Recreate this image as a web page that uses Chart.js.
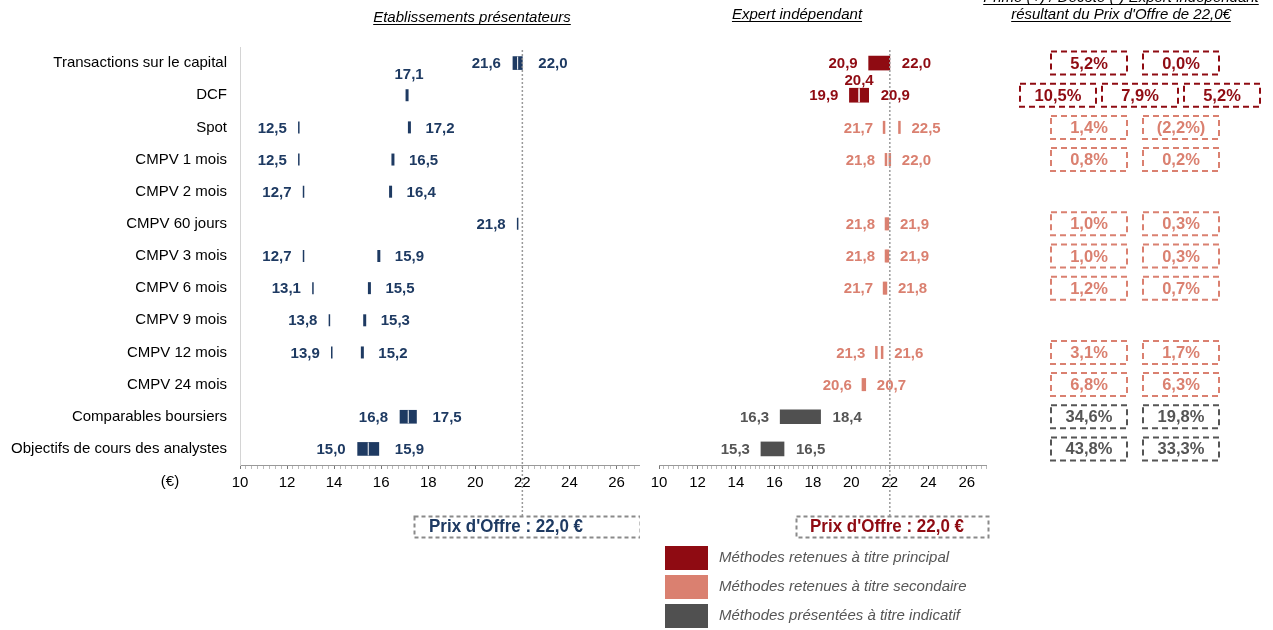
<!DOCTYPE html>
<html>
<head>
<meta charset="utf-8">
<script src="https://cdn.jsdelivr.net/npm/chart.js@4"></script>
<style>
  body { margin: 0; background: #fff; width: 1273px; height: 630px; overflow: hidden; position: relative; }
  canvas { position: absolute; top: 0; }
  #bank { left: 0; }
  #expert { left: 640px; }
</style>
</head>
<body>
<canvas id="bank" width="640" height="630"></canvas>
<canvas id="expert" width="633" height="630"></canvas>
<script>
const FONT = "'Liberation Sans', Arial, Helvetica, sans-serif";

const categories = [
  "Transactions sur le capital", "DCF", "Spot", "CMPV 1 mois", "CMPV 2 mois",
  "CMPV 60 jours", "CMPV 3 mois", "CMPV 6 mois", "CMPV 9 mois", "CMPV 12 mois",
  "CMPV 24 mois", "Comparables boursiers", "Objectifs de cours des analystes"
];
const methodGroup = [
  "principal", "principal", "secondaire", "secondaire", "secondaire",
  "secondaire", "secondaire", "secondaire", "secondaire", "secondaire",
  "secondaire", "indicatif", "indicatif"
];
const offerPrice = 22.0;
const xTickLabels = [10, 12, 14, 16, 18, 20, 22, 24, 26];
const xMax = 27;

// Etablissements présentateurs
const bankLow  = [21.6, null, 12.5, 12.5, 12.7, 21.8, 12.7, 13.1, 13.8, 13.9, null, 16.8, 15.0];
const bankHigh = [22.0, 17.1, 17.2, 16.5, 16.4, null, 15.9, 15.5, 15.3, 15.2, null, 17.5, 15.9];

// Expert indépendant
const expertLow  = [20.9, 19.9, 21.7, 21.8, null, 21.8, 21.8, 21.7, null, 21.3, 20.6, 16.3, 15.3];
const expertMid  = [null, 20.4, null, null, null, null, null, null, null, null, null, null, null];
const expertHigh = [22.0, 20.9, 22.5, 22.0, null, 21.9, 21.9, 21.8, null, 21.6, 20.7, 18.4, 16.5];

// Prime / décote (%)
const premiumLow  = [5.2, 10.5, 1.4, 0.8, null, 1.0, 1.0, 1.2, null, 3.1, 6.8, 34.6, 43.8];
const premiumMid  = [null, 7.9, null, null, null, null, null, null, null, null, null, null, null];
const premiumHigh = [0.0, 5.2, -2.2, 0.2, null, 0.3, 0.3, 0.7, null, 1.7, 6.3, 19.8, 33.3];

const legendLabels = [
  "Méthodes retenues à titre principal",
  "Méthodes retenues à titre secondaire",
  "Méthodes présentées à titre indicatif"
];

const NAVY = "#1E3A62";
const groupColor = { principal: "#8F0B12", secondaire: "#DA8070", indicatif: "#505050" };
const groupText = { principal: "#8F0B12", secondaire: "#DA8070", indicatif: "#555555" };

const fmt = (v) => v.toFixed(1).replace(".", ",");
const fmtPct = (v) => {
  const s = Math.abs(v).toFixed(1).replace(".", ",") + "%";
  return v < 0 ? "(" + s + ")" : s;
};

// build datasets
const isRange = (lo, hi, i) => methodGroup[i] !== "secondaire" && lo[i] != null && hi[i] != null;
const bankRange = categories.map((c, i) => isRange(bankLow, bankHigh, i) ? [bankLow[i], bankHigh[i]] : null);
const bankLowPts = [], bankHighPts = [];
categories.forEach((c, i) => {
  if (bankRange[i]) return;
  if (bankLow[i] != null) bankLowPts.push({ x: bankLow[i], y: c });
  if (bankHigh[i] != null) bankHighPts.push({ x: bankHigh[i], y: c });
});
const expertRange = categories.map((c, i) => isRange(expertLow, expertHigh, i) ? [expertLow[i], expertHigh[i]] : null);
const expertPts = [];
categories.forEach((c, i) => {
  if (expertRange[i]) return;
  if (expertLow[i] != null) expertPts.push({ x: expertLow[i], y: c });
  if (expertHigh[i] != null) expertPts.push({ x: expertHigh[i], y: c });
});

function text(ctx, str, x, y, font, color, align, maxW) {
  ctx.save();
  ctx.font = font;
  ctx.fillStyle = color;
  ctx.textAlign = align || "left";
  ctx.textBaseline = "middle";
  if (maxW) ctx.fillText(str, x, y, maxW); else ctx.fillText(str, x, y);
  ctx.restore();
}

function underlined(ctx, str, cx, baseline) {
  ctx.save();
  ctx.font = "italic 15px " + FONT;
  ctx.fillStyle = "#000";
  ctx.textAlign = "center";
  ctx.textBaseline = "alphabetic";
  ctx.fillText(str, cx, baseline);
  const w = ctx.measureText(str).width;
  ctx.strokeStyle = "#000";
  ctx.lineWidth = 1;
  ctx.beginPath();
  ctx.moveTo(cx - w / 2, baseline + 2.5);
  ctx.lineTo(cx + w / 2, baseline + 2.5);
  ctx.stroke();
  ctx.restore();
}

function dashedBox(ctx, x, y, w, h, color, dash) {
  ctx.save();
  ctx.strokeStyle = color;
  ctx.lineWidth = 2;
  ctx.setLineDash(dash || [6, 4]);
  ctx.strokeRect(x, y, w, h);
  ctx.restore();
}

function offerLine(chart) {
  const ctx = chart.ctx;
  const x = chart.scales.x.getPixelForValue(offerPrice);
  ctx.save();
  ctx.strokeStyle = "#9a9a9a";
  ctx.lineWidth = 1.5;
  ctx.setLineDash([2, 2]);
  ctx.beginPath();
  ctx.moveTo(x, chart.chartArea.top + 3);
  ctx.lineTo(x, 516);
  ctx.stroke();
  ctx.restore();
}

function xScaleOptions() {
  return {
    type: "linear",
    min: xTickLabels[0],
    max: xMax,
    afterBuildTicks: (scale) => {
      const t = [];
      for (let v = xTickLabels[0]; v <= xMax + 0.001; v += 0.25) t.push({ value: Math.round(v * 100) / 100 });
      scale.ticks = t;
    },
    afterFit: (scale) => {
      scale.height = 165;
      scale.paddingLeft = 0;
      scale.paddingRight = 0;
    },
    border: { display: true, color: "#999999" },
    grid: {
      drawOnChartArea: false,
      drawTicks: true,
      tickLength: 4,
      color: (c) => (c.tick && xTickLabels.includes(c.tick.value)) ? "#777777" : "#bbbbbb"
    },
    ticks: {
      autoSkip: false,
      maxRotation: 0,
      minRotation: 0,
      padding: 5,
      color: "#000",
      font: { size: 15, family: FONT },
      callback: (v) => xTickLabels.includes(v) ? String(v) : ""
    }
  };
}

const bankPlugin = {
  id: "bankDecor",
  afterDraw(chart) {
    const ctx = chart.ctx;
    const x = chart.scales.x, y = chart.scales.y;
    // white divider inside range bars
    chart.getDatasetMeta(0).data.forEach((bar, i) => {
      if (!bankRange[i]) return;
      const cx = (bar.x + bar.base) / 2;
      ctx.save();
      ctx.strokeStyle = "#fff";
      ctx.lineWidth = 1;
      ctx.beginPath();
      ctx.moveTo(cx, bar.y - bar.height / 2);
      ctx.lineTo(cx, bar.y + bar.height / 2);
      ctx.stroke();
      ctx.restore();
    });
    offerLine(chart);
    const f = "bold 15px " + FONT;
    categories.forEach((c, i) => {
      const yc = y.getPixelForValue(i) + 1;
      const lo = bankLow[i], hi = bankHigh[i];
      if (lo != null) text(ctx, fmt(lo), x.getPixelForValue(lo) - 12, yc, f, NAVY, "right");
      if (hi != null && lo != null) text(ctx, fmt(hi), x.getPixelForValue(hi) + 16, yc, f, NAVY, "left");
      if (hi != null && lo == null) text(ctx, fmt(hi), x.getPixelForValue(hi) + 2, yc - 21, f, NAVY, "center");
    });
    underlined(ctx, "Etablissements présentateurs", 472, 22);
    text(ctx, "(€)", 170, 482, "15px " + FONT, "#000", "center");
    dashedBox(ctx, 414.5, 516.5, 226, 21, "#8a8a8a", [4, 3]);
    text(ctx, "Prix d'Offre : 22,0 €", 429, 527, "bold 18px " + FONT, NAVY, "left", 154);
  }
};

const OX = 640;
const expertPlugin = {
  id: "expertDecor",
  afterDraw(chart) {
    const ctx = chart.ctx;
    const x = chart.scales.x, y = chart.scales.y;
    chart.getDatasetMeta(0).data.forEach((bar, i) => {
      if (!expertRange[i] || expertMid[i] == null) return;
      const mx = x.getPixelForValue(expertMid[i]);
      ctx.save();
      ctx.strokeStyle = "#fff";
      ctx.lineWidth = 1.5;
      ctx.beginPath();
      ctx.moveTo(mx, bar.y - bar.height / 2);
      ctx.lineTo(mx, bar.y + bar.height / 2);
      ctx.stroke();
      ctx.restore();
    });
    offerLine(chart);
    const f = "bold 15px " + FONT;
    categories.forEach((c, i) => {
      const yc = y.getPixelForValue(i) + 1;
      const col = groupText[methodGroup[i]];
      if (expertLow[i] != null) text(ctx, fmt(expertLow[i]), x.getPixelForValue(expertLow[i]) - 11, yc, f, col, "right");
      if (expertHigh[i] != null) text(ctx, fmt(expertHigh[i]), x.getPixelForValue(expertHigh[i]) + 12, yc, f, col, "left");
      if (expertMid[i] != null) text(ctx, fmt(expertMid[i]), x.getPixelForValue(expertMid[i]), yc - 15, f, col, "center");
    });

    // page coordinates from here
    ctx.save();
    ctx.translate(-OX, 0);
    underlined(ctx, "Expert indépendant", 797, 19);
    underlined(ctx, "Prime (+) / Décote (-) Expert indépendant", 1121, 2);
    underlined(ctx, "résultant du Prix d'Offre de 22,0€", 1121, 19);

    dashedBox(ctx, 796.5, 516.5, 192, 21, "#8a8a8a", [4, 3]);
    text(ctx, "Prix d'Offre : 22,0 €", 810, 527, "bold 18px " + FONT, groupColor.principal, "left", 154);

    // legend
    const legCols = [groupColor.principal, groupColor.secondaire, groupColor.indicatif];
    legendLabels.forEach((lab, k) => {
      const top = 546 + k * 29;
      ctx.fillStyle = legCols[k];
      ctx.fillRect(665, top, 43, 24);
      text(ctx, lab, 719, top + 12, "italic 15px " + FONT, "#555555", "left");
    });

    // premium table
    categories.forEach((c, i) => {
      const vals = [premiumLow[i], premiumMid[i], premiumHigh[i]].filter((v) => v != null);
      if (!vals.length) return;
      const yc = y.getPixelForValue(i);
      const centers = vals.length === 3 ? [1058, 1140, 1222] : [1089, 1181];
      const col = groupText[methodGroup[i]];
      vals.forEach((v, k) => {
        dashedBox(ctx, centers[k] - 38, yc - 11.5, 76, 23, col);
        text(ctx, fmtPct(v), centers[k], yc + 1, "bold 16.5px " + FONT, col, "center");
      });
    });
    ctx.restore();
  }
};

new Chart(document.getElementById("bank"), {
  type: "bar",
  data: {
    labels: categories,
    datasets: [
      {
        data: bankRange,
        backgroundColor: NAVY,
        barThickness: 13,
        grouped: false
      },
      {
        type: "scatter",
        data: bankLowPts,
        pointStyle: "line",
        pointRotation: 90,
        pointRadius: 6,
        pointBorderWidth: 1.5,
        pointBorderColor: NAVY,
        pointBackgroundColor: NAVY
      },
      {
        type: "scatter",
        data: bankHighPts,
        pointStyle: "line",
        pointRotation: 90,
        pointRadius: 6,
        pointBorderWidth: 3,
        pointBorderColor: NAVY,
        pointBackgroundColor: NAVY
      }
    ]
  },
  options: {
    indexAxis: "y",
    responsive: false,
    animation: false,
    layout: { autoPadding: false, padding: { top: 47, right: 0, bottom: 0, left: 0 } },
    plugins: { legend: { display: false }, tooltip: { enabled: false } },
    scales: {
      x: xScaleOptions(),
      y: {
        type: "category",
        offset: true,
        afterFit: (scale) => { scale.width = 240; },
        border: { display: true, color: "#d4d4d4" },
        grid: { display: false, drawTicks: false },
        ticks: { color: "#000", padding: 13, font: { size: 15, family: FONT } }
      }
    }
  },
  plugins: [bankPlugin]
});

new Chart(document.getElementById("expert"), {
  type: "bar",
  data: {
    labels: categories,
    datasets: [
      {
        data: expertRange,
        backgroundColor: (c) => groupColor[methodGroup[c.dataIndex]],
        barThickness: 14,
        grouped: false
      },
      {
        type: "scatter",
        data: expertPts,
        pointStyle: "line",
        pointRotation: 90,
        pointRadius: 6.5,
        pointBorderWidth: 2.5,
        pointBorderColor: groupColor.secondaire,
        pointBackgroundColor: groupColor.secondaire
      }
    ]
  },
  options: {
    indexAxis: "y",
    responsive: false,
    animation: false,
    layout: { autoPadding: false, padding: { top: 47, right: 287, bottom: 0, left: 0 } },
    plugins: { legend: { display: false }, tooltip: { enabled: false } },
    scales: {
      x: xScaleOptions(),
      y: {
        type: "category",
        offset: true,
        afterFit: (scale) => { scale.width = 19; },
        border: { display: false },
        grid: { display: false, drawTicks: false },
        ticks: { display: false }
      }
    }
  },
  plugins: [expertPlugin]
});
</script>
</body>
</html>
